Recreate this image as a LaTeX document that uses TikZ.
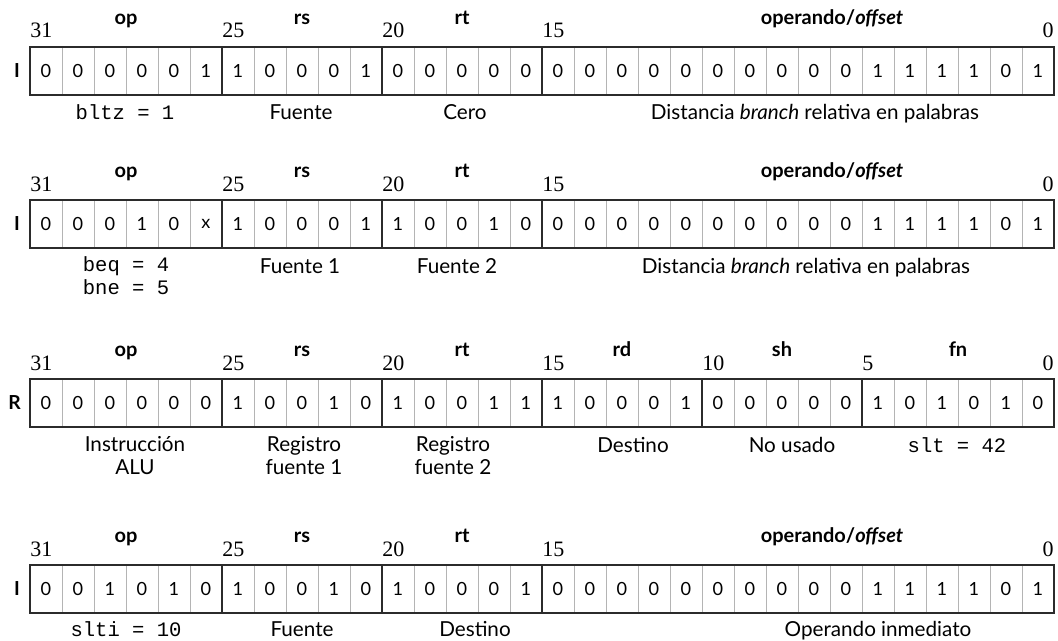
\documentclass[tikz,border=0pt]{standalone}
\usepackage{fontspec}
\newfontfamily\fieldfont{Lato}
\newfontfamily\codefont{Liberation Mono}
\newfontfamily\numfont{Liberation Serif}
\definecolor{rule}{HTML}{2b2b2b}
\definecolor{cellrule}{HTML}{b4b4b4}

\begin{document}
\begin{tikzpicture}[
  x=0.75pt, y=-0.75pt,
  cell/.style={draw=cellrule, line width=0.7pt},
  fieldrule/.style={draw=rule, line width=1.7pt},
  bit/.style={font=\fieldfont\fontsize{13.6}{14.25}\selectfont, inner sep=0pt},
  bitno/.style={font=\numfont\fontsize{16.5}{17}\selectfont, inner sep=0pt, anchor=base west},
  fname/.style={font=\fieldfont\bfseries\fontsize{15}{14.25}\selectfont, inner sep=0pt, anchor=base},
  desc/.style={font=\fieldfont\fontsize{15.5}{15.5}\selectfont, inner sep=0pt, anchor=base, align=center},
  codelbl/.style={font=\codefont\fontsize{15.4}{15.5}\selectfont, inner sep=0pt, anchor=base, align=left},
  fmt/.style={font=\fieldfont\bfseries\fontsize{14.5}{14.25}\selectfont, inner sep=0pt, anchor=east},
]
\useasboundingbox (0,0) rectangle (1058,641);

% ---- bltz: I format ----
\begin{scope}[shift={(30,47)}]
  \foreach \b [count=\i from 0] in {0,0,0,0,0,1, 1,0,0,0,1, 0,0,0,0,0, 0,0,0,0,0,0,0,0,0,0,1,1,1,1,0,1} {
    \draw[cell] (\i*32,0) rectangle ++(32,48);
    \node[bit] (a\i) at (\i*32+16,24) {\b};
  }
  \foreach \k in {6,11,16} \draw[fieldrule] (\k*32,0) -- ++(0,48);
  \draw[fieldrule] (0,0) rectangle (1024,48);
  \foreach \k/\n in {0/31,6/25,11/20,16/15} \node[bitno] (an\n) at (\k*32,-9) {\n};
  \node[bitno, anchor=base east] (an0) at (1024,-9) {0};
  \node[fmt] (afmt) at (-10,24) {I};
  \node[fname] (aop) at (96,-22) {op};
  \node[fname] (ars) at (272,-22) {rs};
  \node[fname] (art) at (432,-22) {rt};
  \node[fname] (aimm) at (802,-22) {operando/\textit{offset}};
  \node[codelbl] (aopl) at (95,73) {bltz = 1};
  \node[desc] (arsl) at (271,73) {Fuente};
  \node[desc] (artl) at (435,73) {Cero};
  \node[desc] (aimml) at (785,73) {Distancia \textit{branch} relativa en palabras};
\end{scope}

% ---- beq / bne: I format ----
\begin{scope}[shift={(30,200)}]
  \foreach \b [count=\i from 0] in {0,0,0,1,0,x, 1,0,0,0,1, 1,0,0,1,0, 0,0,0,0,0,0,0,0,0,0,1,1,1,1,0,1} {
    \draw[cell] (\i*32,0) rectangle ++(32,48);
    \node[bit] (b\i) at (\i*32+16,24) {\b};
  }
  \foreach \k in {6,11,16} \draw[fieldrule] (\k*32,0) -- ++(0,48);
  \draw[fieldrule] (0,0) rectangle (1024,48);
  \foreach \k/\n in {0/31,6/25,11/20,16/15} \node[bitno] (bn\n) at (\k*32,-8) {\n};
  \node[bitno, anchor=base east] (bn0) at (1024,-8) {0};
  \node[fmt] (bfmt) at (-10,24) {I};
  \node[fname] (bop) at (96,-22) {op};
  \node[fname] (brs) at (272,-22) {rs};
  \node[fname] (brt) at (432,-22) {rt};
  \node[fname] (bimm) at (802,-22) {operando/\textit{offset}};
  % two lines: base is the lower line
  \node[codelbl] (bopl) at (96,95) {beq = 4\\[2pt]bne = 5};
  \node[desc] (brsl) at (270,74) {Fuente 1};
  \node[desc] (brtl) at (427,74) {Fuente 2};
  \node[desc] (biml) at (776,74) {Distancia \textit{branch} relativa en palabras};
\end{scope}

% ---- slt: R format ----
\begin{scope}[shift={(30,379)}]
  \foreach \b [count=\i from 0] in {0,0,0,0,0,0, 1,0,0,1,0, 1,0,0,1,1, 1,0,0,0,1, 0,0,0,0,0, 1,0,1,0,1,0} {
    \draw[cell] (\i*32,0) rectangle ++(32,48);
    \node[bit] (c\i) at (\i*32+16,24) {\b};
  }
  \foreach \k in {6,11,16,21,26} \draw[fieldrule] (\k*32,0) -- ++(0,48);
  \draw[fieldrule] (0,0) rectangle (1024,48);
  \foreach \k/\n in {0/31,6/25,11/20,16/15,21/10,26/5} \node[bitno] (cn\n) at (\k*32,-8) {\n};
  \node[bitno, anchor=base east] (cn0) at (1024,-8) {0};
  \node[fmt] (cfmt) at (-9,24) {R};
  \node[fname] (cop) at (96,-22) {op};
  \node[fname] (crs) at (272,-22) {rs};
  \node[fname] (crt) at (432,-22) {rt};
  \node[fname] (crd) at (592,-22) {rd};
  \node[fname] (csh) at (752,-22) {sh};
  \node[fname] (cfn) at (928,-22) {fn};
  \node[desc] (copl) at (105,96) {Instrucción\\[2pt]ALU};
  \node[desc] (crsl) at (274,96) {Registro\\[2pt]fuente 1};
  \node[desc] (crtl) at (423,96) {Registro\\[2pt]fuente 2};
  \node[desc] (crdl) at (603,74) {Destino};
  \node[desc] (cshl) at (762,74) {No usado};
  \node[codelbl] (cfnl) at (927,74) {slt = 42};
\end{scope}

% ---- slti: I format ----
\begin{scope}[shift={(30,565)}]
  \foreach \b [count=\i from 0] in {0,0,1,0,1,0, 1,0,0,1,0, 1,0,0,0,1, 0,0,0,0,0,0,0,0,0,0,1,1,1,1,0,1} {
    \draw[cell] (\i*32,0) rectangle ++(32,48);
    \node[bit] (d\i) at (\i*32+16,24) {\b};
  }
  \foreach \k in {6,11,16} \draw[fieldrule] (\k*32,0) -- ++(0,48);
  \draw[fieldrule] (0,0) rectangle (1024,48);
  \foreach \k/\n in {0/31,6/25,11/20,16/15} \node[bitno] (dn\n) at (\k*32,-8) {\n};
  \node[bitno, anchor=base east] (dn0) at (1024,-8) {0};
  \node[fmt] (dfmt) at (-10,24) {I};
  \node[fname] (dop) at (96,-22) {op};
  \node[fname] (drs) at (272,-22) {rs};
  \node[fname] (drt) at (432,-22) {rt};
  \node[fname] (dimm) at (802,-22) {operando/\textit{offset}};
  \node[codelbl] (dopl) at (96,72) {slti = 10};
  \node[desc] (drsl) at (272,72) {Fuente};
  \node[desc] (drtl) at (445,72) {Destino};
  \node[desc] (diml) at (848,72) {Operando inmediato};
\end{scope}

\end{tikzpicture}
\end{document}
